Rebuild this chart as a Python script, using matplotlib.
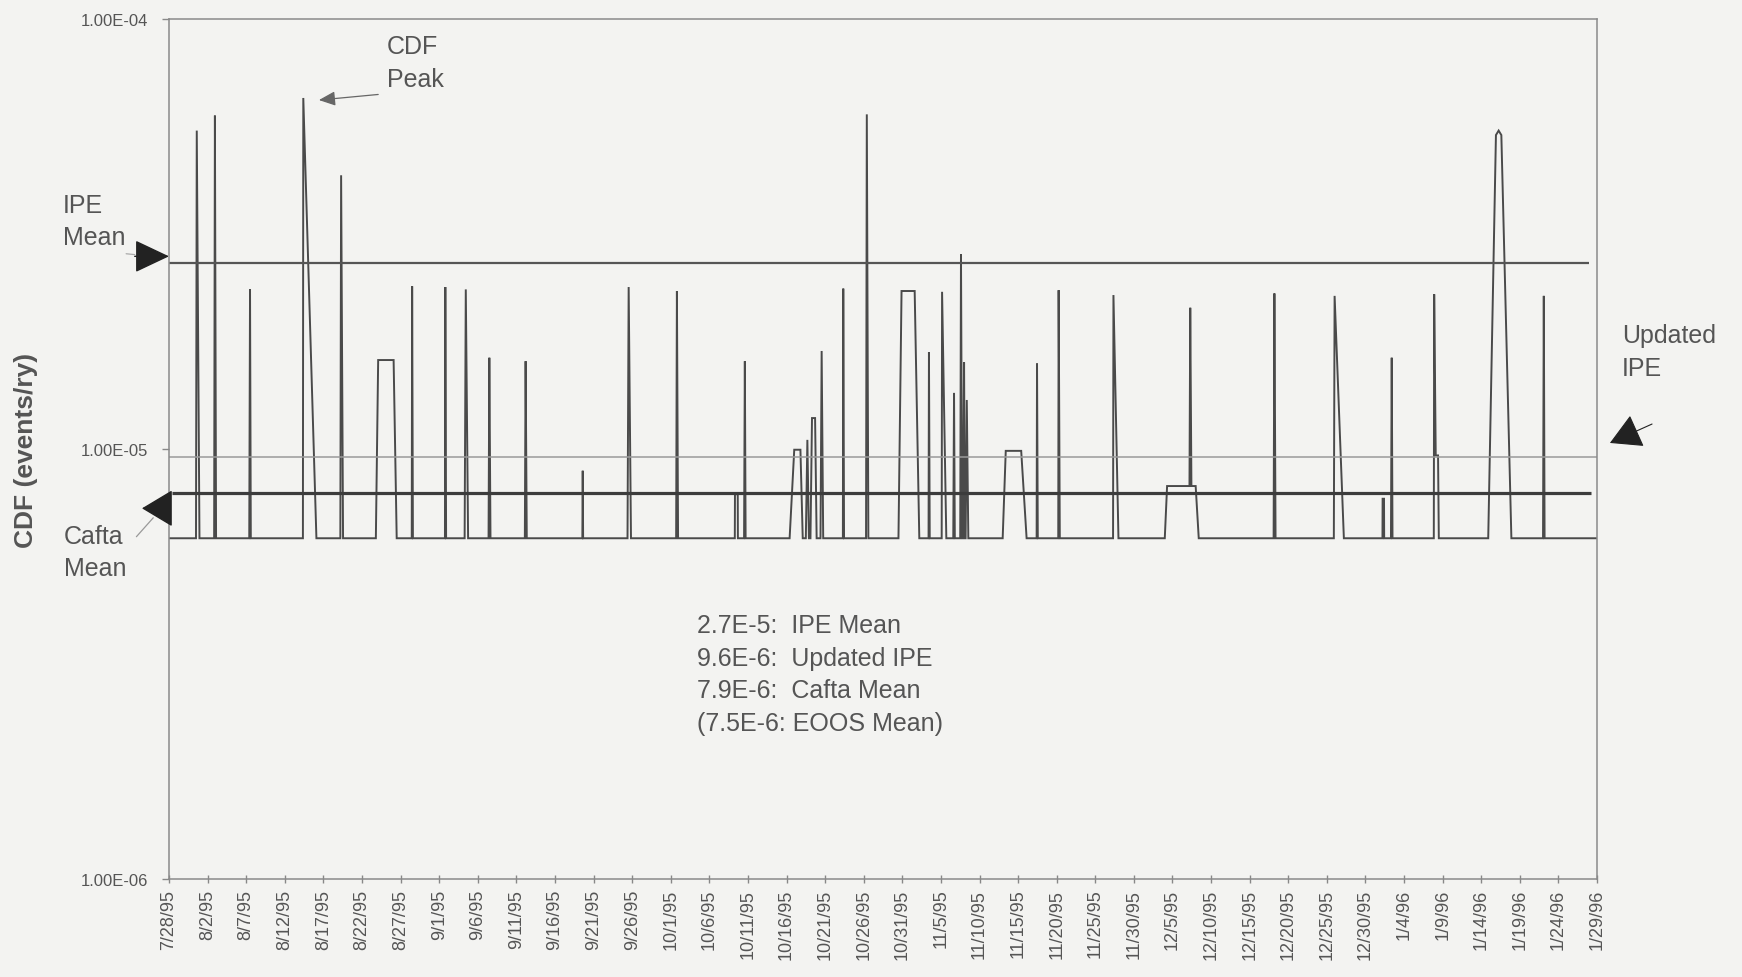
import matplotlib
matplotlib.use("Agg")
import matplotlib.pyplot as plt
import matplotlib.ticker as mticker
import pandas as pd

plt.rcParams['font.family'] = ['Liberation Sans', 'DejaVu Sans']

# dates on the x axis
start = pd.Timestamp('1995-07-28')
end = pd.Timestamp('1996-01-29')

# reference levels (events/ry)
ipe_mean = 2.7e-5
updated_ipe = 9.6e-6
cafta_mean = 7.9e-6
B = 6.2e-6  # baseline of the CDF history

# CDF history: days after 7/28/95 and value, one row per event
hist_day = [0.0,
            3.5, 3.6, 3.95,
            5.85, 5.95, 6.1,
            10.4, 10.5, 10.6,
            17.35, 17.4, 19.1,
            22.2, 22.3, 22.55,
            26.8, 27.1, 29.1, 29.5,
            31.45, 31.5, 31.6,
            35.75, 35.8, 35.9,
            38.3, 38.45, 38.75,
            41.4, 41.5, 41.65,
            46.1, 46.2, 46.35,
            53.55, 53.6, 53.65,
            59.4, 59.55, 59.85,
            65.7, 65.8, 65.95,
            73.3, 73.32, 73.68, 73.7,
            74.5, 74.6, 74.7,
            80.4, 81.0, 81.8, 82.1,
            82.5, 82.7, 82.9,
            83.1, 83.3, 83.7, 83.9,
            84.4, 84.55, 84.75,
            87.3, 87.35, 87.45,
            90.3, 90.4, 90.6,
            94.5, 94.9, 96.6, 97.2,
            98.4, 98.45, 98.55,
            100.1, 100.15, 100.7,
            101.6, 101.7, 101.8,
            102.5, 102.6, 102.75,
            102.85, 103.0, 103.1,
            103.2, 103.35, 103.55,
            108.0, 108.4, 110.4, 111.1,
            112.4, 112.45, 112.55,
            115.2, 115.25, 115.4,
            122.3, 122.35, 123.0,
            129.0, 129.3, 132.2, 132.3, 132.45, 133.0, 133.4,
            143.1, 143.2, 143.35,
            150.9, 151.0, 152.2,
            157.2, 157.22, 157.4, 157.42,
            158.3, 158.4, 158.5,
            163.85, 163.9, 164.1, 164.4, 164.5,
            170.9, 171.9, 172.25, 172.6, 173.9,
            178.0, 178.1, 178.2,
            185.0]
hist_cdf = [B,
            B, 5.5e-5, B,
            B, 5.96e-5, B,
            B, 2.35e-5, B,
            B, 6.55e-5, B,
            B, 4.33e-5, B,
            B, 1.61e-5, 1.61e-5, B,
            B, 2.39e-5, B,
            B, 2.38e-5, B,
            B, 2.35e-5, B,
            B, 1.63e-5, B,
            B, 1.6e-5, B,
            B, 8.9e-6, B,
            B, 2.38e-5, B,
            B, 2.33e-5, B,
            B, 7.85e-6, 7.85e-6, B,
            B, 1.6e-5, B,
            B, 9.96e-6, 9.96e-6, B,
            B, 1.05e-5, B,
            B, 1.18e-5, 1.18e-5, B,
            B, 1.69e-5, B,
            B, 2.36e-5, B,
            B, 6.0e-5, B,
            B, 2.33e-5, 2.33e-5, B,
            B, 1.68e-5, B,
            B, 2.32e-5, B,
            B, 1.35e-5, B,
            B, 2.84e-5, B,
            B, 1.59e-5, B,
            B, 1.3e-5, B,
            B, 9.9e-6, 9.9e-6, B,
            B, 1.58e-5, B,
            B, 2.34e-5, B,
            B, 2.28e-5, B,
            B, 8.2e-6, 8.2e-6, 2.13e-5, 8.2e-6, 8.2e-6, B,
            B, 2.3e-5, B,
            B, 2.27e-5, B,
            B, 7.66e-6, 7.66e-6, B,
            B, 1.63e-5, B,
            B, 2.29e-5, 9.66e-6, 9.66e-6, B,
            B, 5.37e-5, 5.5e-5, 5.37e-5, B,
            B, 2.27e-5, B,
            B]

summary_lines = ['2.7E-5:  IPE Mean',
                 '9.6E-6:  Updated IPE',
                 '7.9E-6:  Cafta Mean',
                 '(7.5E-6: EOOS Mean)']

bg = '#f3f3f1'
ink = '#4a4a4a'
txt = '#555555'
ls = 1.45

fig = plt.figure(figsize=(17.42, 9.78), dpi=100, facecolor=bg)
ax = fig.add_axes([0.097, 0.1002, 0.8198, 0.8794], facecolor=bg)

x = start + pd.to_timedelta(hist_day, unit='D')
ax.plot(x, hist_cdf, color=ink, lw=1.4, solid_joinstyle='miter')

ax.hlines(updated_ipe, start, end, color='#9a9a9a', lw=1.1)
ax.hlines(ipe_mean, start, end - pd.Timedelta(days=1), color='#555555', lw=1.6)
ax.hlines(cafta_mean, start + pd.Timedelta(days=0.4), end - pd.Timedelta(days=0.8),
          color='#3c3c3c', lw=2.3)

ax.set_yscale('log')
ax.set_ylim(1e-6, 1e-4)
ax.set_xlim(start, end)
ax.yaxis.set_major_locator(mticker.FixedLocator([1e-6, 1e-5, 1e-4]))
ax.yaxis.set_minor_locator(mticker.NullLocator())
ax.yaxis.set_major_formatter(mticker.FuncFormatter(lambda v, p: f'{v:.2E}'))

ticks = pd.date_range(start, end, freq='5D')
ax.set_xticks(ticks)
ax.set_xticklabels([f'{d.month}/{d.day}/{d:%y}' for d in ticks], rotation=90,
                   fontsize=13, color=txt)
ax.tick_params(axis='x', direction='inout', length=6, width=1, color='#888888', pad=4)
ax.tick_params(axis='y', direction='out', length=5, width=1, color='#888888', pad=10,
               labelsize=12, labelcolor=txt)
for s in ax.spines.values():
    s.set_color('#8a8a8a')
    s.set_linewidth(1.1)

ax.set_ylabel('CDF (events/ry)', fontsize=19, fontweight='bold', color=txt)
ax.yaxis.set_label_coords(-0.092, 0.5)

# annotations
ax.text(0.1527, 0.982, 'CDF\nPeak', transform=ax.transAxes, fontsize=18, color=txt,
        va='top', ha='left', linespacing=ls)
ax.annotate('', xy=(0.105, 0.9057), xytext=(0.1465, 0.9122), xycoords='axes fraction',
            arrowprops=dict(arrowstyle='-|>,head_length=0.5,head_width=0.22', mutation_scale=20,
                            color='#666666', lw=0.9, shrinkA=0, shrinkB=0))

ax.text(-0.0742, 0.798, 'IPE\nMean', transform=ax.transAxes, fontsize=18, color=txt,
        va='top', ha='left', linespacing=ls)
ax.annotate('', xy=(0.0, 0.724), xytext=(-0.024, 0.724), xycoords='axes fraction',
            arrowprops=dict(arrowstyle='-|>,head_length=0.55,head_width=0.26', mutation_scale=40,
                            color='#222222', shrinkA=0, shrinkB=0), annotation_clip=False)
ax.annotate('', xy=(-0.024, 0.726), xytext=(-0.03, 0.727), xycoords='axes fraction',
            arrowprops=dict(arrowstyle='-', color='#aaaaaa', lw=0.9, shrinkA=0, shrinkB=0),
            annotation_clip=False)

ax.text(-0.0735, 0.413, 'Cafta\nMean', transform=ax.transAxes, fontsize=18, color=txt,
        va='top', ha='left', linespacing=ls)
ax.annotate('', xy=(-0.0189, 0.431), xytext=(0.001, 0.431), xycoords='axes fraction',
            arrowprops=dict(arrowstyle='-|>,head_length=0.5,head_width=0.3', mutation_scale=40,
                            color='#222222', shrinkA=0, shrinkB=0), annotation_clip=False)
ax.annotate('', xy=(-0.0228, 0.398), xytext=(-0.011, 0.42), xycoords='axes fraction',
            arrowprops=dict(arrowstyle='-', color='#999999', lw=0.9, shrinkA=0, shrinkB=0),
            annotation_clip=False)

ax.text(1.0175, 0.646, 'Updated\nIPE', transform=ax.transAxes, fontsize=18, color=txt,
        va='top', ha='left', linespacing=ls)
ax.annotate('', xy=(1.009, 0.507), xytext=(1.0385, 0.529), xycoords='axes fraction',
            arrowprops=dict(arrowstyle='-|>,head_length=0.5,head_width=0.28', mutation_scale=40,
                            color='#222222', lw=0.8, shrinkA=0, shrinkB=0), annotation_clip=False)

ax.text(0.3697, 0.309, '\n'.join(summary_lines), transform=ax.transAxes, fontsize=18,
        color=txt, va='top', ha='left', linespacing=ls)

fig.savefig('out.png', dpi=100, facecolor=bg)
